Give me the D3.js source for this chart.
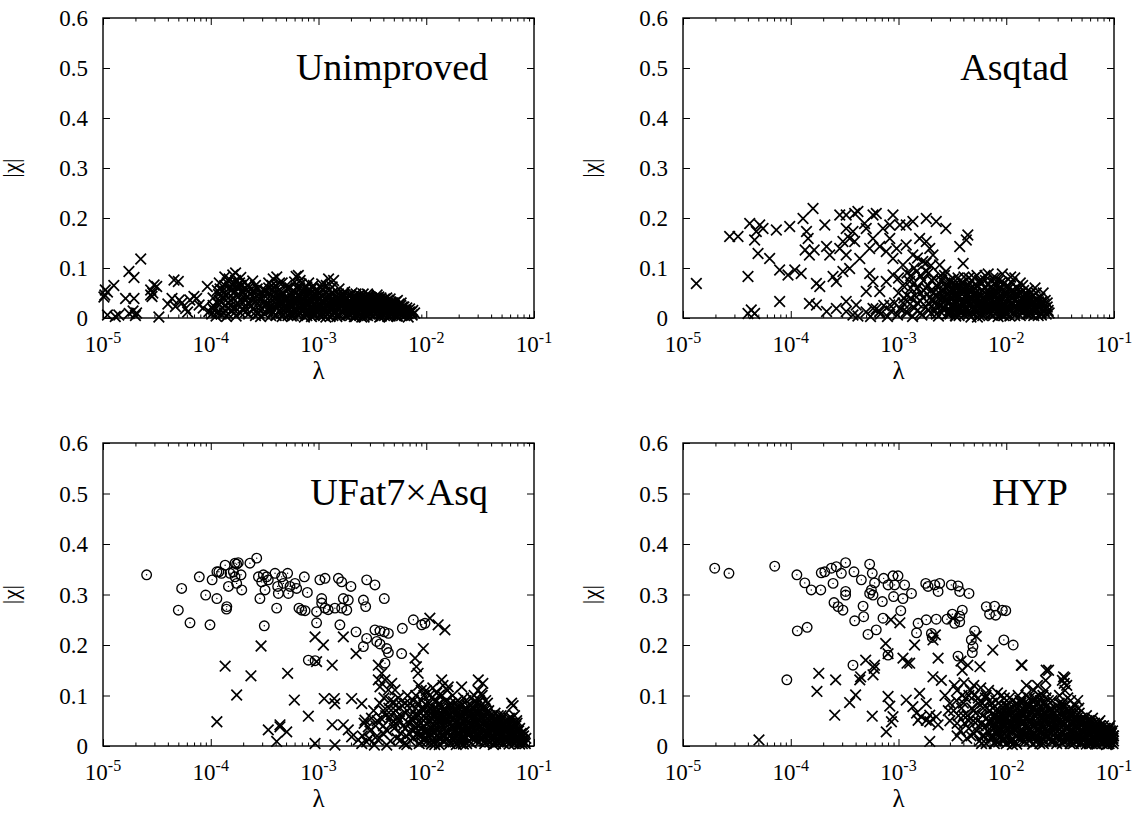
<!DOCTYPE html>
<html><head><meta charset="utf-8">
<script src="https://cdn.jsdelivr.net/npm/d3@7"></script>
<style>
body{margin:0;background:#fff}
svg{display:block}
svg text{font-family:"Liberation Serif","Times New Roman",Times,serif;fill:#000}
</style>
</head><body>
<svg id="chart" width="1141" height="815" font-family="Liberation Serif, Times New Roman, serif"></svg>
<script>
// ---------- DATA : [lambda, |chi|] ----------
const unimprovedCross = [
[2.24e-5,.118],[1.74e-5,.093],[1.94e-5,.081],[1.26e-5,.065],[1.05e-5,.056],[1.04e-5,.046],[1.02e-5,.042],[1.1e-5,.052],[1.62e-5,.039],[1.94e-5,.039],
[2.77e-5,.056],[2.98e-5,.066],[2.77e-5,.046],[2.85e-5,.043],[4.56e-5,.076],[5.0e-5,.073],[4.37e-5,.039],[5.1e-5,.036],[4.7e-5,.023],[5.85e-5,.019],
[6.98e-5,.043],[7.4e-5,.039],[6.4e-5,.036],[9.3e-5,.063],[7.8e-5,.026],[9.6e-5,.013],[1.1e-5,.006],[1.4e-5,.006],[1.75e-5,.009],[2.0e-5,.005],
[3.3e-5,.002],[1.9e-5,.014],[2.05e-5,.01],[1.3e-5,.003],[4.0e-5,.028],[5.4e-5,.03],[6.1e-5,.012],[8.5e-5,.02],[3.15e-5,.063],[2.9e-5,.05],
[1.02e-4,.008],[1.08e-4,.015],[1.12e-4,.004],[1.05e-4,.025],[1.18e-4,.047],[1.22e-4,.058],[1.15e-4,.012],[1.25e-4,.031],
[1.3e-4,.055],[1.35e-4,.082],[1.42e-4,.07],[1.38e-4,.045],[1.5e-4,.061],[1.45e-4,.02],[1.33e-4,.01],[1.55e-4,.035],[1.48e-4,.078],[1.4e-4,.003],
[1.6e-4,.086],[1.7e-4,.075],[1.65e-4,.05],[1.8e-4,.066],[1.75e-4,.03],[1.9e-4,.081],[1.85e-4,.012],[1.62e-4,.018],[1.95e-4,.055],[1.72e-4,.004],
[2.05e-4,.07],[2.15e-4,.042],[2.3e-4,.062],[2.1e-4,.02],[2.4e-4,.035],[2.25e-4,.008],[2.45e-4,.074],[2.2e-4,.052],
[2.55e-4,.048],[2.7e-4,.058],[2.8e-4,.025],[2.6e-4,.012],[3.0e-4,.04],[2.9e-4,.003],[3.1e-4,.055],[2.65e-4,.033],
[3.3e-4,.03],[3.5e-4,.05],[3.4e-4,.015],[3.7e-4,.065],[3.8e-4,.078],[3.6e-4,.005],[3.9e-4,.04],[3.45e-4,.06],
[4.1e-4,.082],[4.3e-4,.055],[4.2e-4,.025],[4.6e-4,.07],[4.5e-4,.01],[4.8e-4,.04],[4.4e-4,.045],[4.9e-4,.02],[4.0e-4,.065],
[5.1e-4,.06],[5.3e-4,.03],[5.5e-4,.045],[5.7e-4,.012],[6.0e-4,.072],[5.9e-4,.035],[5.2e-4,.005],[6.2e-4,.05],[5.6e-4,.022],
[6.5e-4,.085],[6.7e-4,.06],[7.0e-4,.04],[6.6e-4,.02],[7.3e-4,.05],[7.5e-4,.008],[7.7e-4,.03],[6.9e-4,.068],[7.2e-4,.015],
[8.0e-4,.055],[8.4e-4,.035],[8.8e-4,.06],[8.2e-4,.012],[9.0e-4,.025],[9.5e-4,.045],[8.6e-4,.003],[9.8e-4,.018],[9.2e-4,.05],
[1.02e-3,.04],[1.05e-3,.06],[1.1e-3,.02],[1.15e-3,.052],[1.2e-3,.008],[1.08e-3,.03],[1.25e-3,.045],[1.18e-3,.065],[1.12e-3,.014],
[1.3e-3,.035],[1.38e-3,.075],[1.35e-3,.05],[1.45e-3,.025],[1.5e-3,.04],[1.42e-3,.01],[1.55e-3,.058],[1.32e-3,.018],[1.48e-3,.003],
[1.6e-3,.045],[1.7e-3,.03],[1.75e-3,.052],[1.65e-3,.012],[1.85e-3,.04],[1.9e-3,.02],[1.8e-3,.005],[1.95e-3,.035],[1.68e-3,.025],
[2.05e-3,.05],[2.2e-3,.04],[2.1e-3,.022],[2.3e-3,.01],[2.4e-3,.046],[2.15e-3,.003],[2.35e-3,.03],[2.45e-3,.018],
[2.6e-3,.048],[2.75e-3,.035],[2.9e-3,.045],[2.7e-3,.015],[3.0e-3,.025],[2.85e-3,.005],[3.1e-3,.038],[2.55e-3,.028],
[3.3e-3,.02],[3.5e-3,.046],[3.6e-3,.03],[3.4e-3,.008],[3.8e-3,.04],[3.9e-3,.015],[3.7e-3,.002],[3.25e-3,.035],
[4.1e-3,.03],[4.3e-3,.04],[4.5e-3,.018],[4.7e-3,.032],[4.9e-3,.008],[4.4e-3,.003],[4.2e-3,.012],
[5.1e-3,.025],[5.4e-3,.035],[5.7e-3,.012],[6.0e-3,.022],[5.3e-3,.004],[6.2e-3,.008],
[6.5e-3,.015],[7.0e-3,.018],[7.4e-3,.006],[6.8e-3,.002],[7.8e-3,.01],
[5.4e-4,.018],[6.1e-4,.028],[6.8e-4,.01],[7.6e-4,.022],[8.3e-4,.04],[9.3e-4,.008],[1.0e-3,.028],[1.14e-3,.038],[1.22e-3,.025],[1.36e-3,.005],
[1.52e-3,.03],[1.62e-3,.035],[1.78e-3,.018],[1.88e-3,.045],[2.02e-3,.013],[2.12e-3,.035],[2.25e-3,.027],[2.42e-3,.006],[2.58e-3,.012],[2.68e-3,.04],
[2.8e-3,.022],[2.95e-3,.01],[3.05e-3,.03],[3.15e-3,.015],[3.35e-3,.026],[3.45e-3,.04],[3.55e-3,.012],[3.75e-3,.022],[3.95e-3,.028],[4.05e-3,.02],
[4.25e-3,.025],[4.6e-3,.01],[4.8e-3,.022],[5.2e-3,.015],[5.6e-3,.028],[5.9e-3,.005],[1.28e-3,.028],[1.44e-3,.042],[1.72e-3,.008],[1.92e-3,.028],
[2.18e-3,.018],[2.5e-3,.035],[2.65e-3,.002],[2.9e-3,.032],[3.2e-3,.005],[3.65e-3,.035],[1.06e-3,.01],[9.6e-4,.032],[8.9e-4,.018],[7.9e-4,.045],
[7.1e-4,.028],[6.4e-4,.038],[5.8e-4,.055],[8.1e-4,.07],[1.07e-3,.068],[3.0e-4,.018],[3.6e-4,.025],[4.7e-4,.03],[2.0e-4,.03],[1.55e-4,.015],
[1.24e-3,.078],[6.2e-4,.083]
];
// more crosses of the dense band, written as rows [lambda, chi, chi, ...]
const unimprovedCrossBand = [
[2.1e-4,.012,.038,.06],[2.35e-4,.025,.048],[2.6e-4,.005,.04,.065],[2.85e-4,.015,.05],[3.15e-4,.008,.032,.045],[3.45e-4,.02,.07],
[3.75e-4,.012,.035,.055],[4.05e-4,.005,.028,.05],[4.35e-4,.015,.038,.07],[4.7e-4,.008,.05],[5.05e-4,.02,.04,.065],[5.45e-4,.01,.032,.06],
[5.85e-4,.005,.025,.045],[6.3e-4,.015,.035,.06],[6.75e-4,.008,.045,.075],[7.25e-4,.025,.035,.058],[7.8e-4,.005,.015,.062],[8.35e-4,.028,.048],
[8.95e-4,.01,.038,.065],[9.6e-4,.022,.055],[1.03e-3,.005,.015,.048],[1.1e-3,.035,.058],[1.17e-3,.002,.025,.042],[1.26e-3,.012,.055],
[1.34e-3,.022,.04,.062],[1.43e-3,.015,.03],[1.53e-3,.008,.02,.048],[1.63e-3,.025,.042],[1.74e-3,.015,.035,.045],[1.86e-3,.01,.028],
[1.98e-3,.005,.02,.045],[2.1e-3,.012,.042],[2.23e-3,.008,.035,.048],[2.37e-3,.02,.038],[2.52e-3,.002,.025,.042],[2.68e-3,.01,.028],
[2.85e-3,.018,.038,.048],[3.03e-3,.008,.02,.042],[3.22e-3,.012,.03],[3.42e-3,.018,.035],[3.63e-3,.008,.025,.042],[3.86e-3,.01,.035],
[4.1e-3,.005,.02,.038],[4.35e-3,.015,.028],[4.62e-3,.004,.025,.038],[4.9e-3,.015,.03],[5.2e-3,.008,.02,.032],[5.5e-3,.015,.025],
[5.85e-3,.01,.018,.03],[6.2e-3,.015,.022],[6.6e-3,.008,.02],[7.0e-3,.012],[7.5e-3,.015],[1.2e-4,.035,.07],[1.3e-4,.02,.04],
[1.45e-4,.05,.008],[1.6e-4,.065,.04],[1.7e-4,.02,.09],[1.85e-4,.045,.07]
];
const unimprovedCrossCore = [
[4.0e-4,.006,.022,.04],[4.3e-4,.014,.03],[4.6e-4,.003,.02,.045],[4.9e-4,.011,.033],[5.25e-4,.018,.04],[5.6e-4,.004,.026],[6.0e-4,.013,.038],
[6.45e-4,.007,.024,.046],[6.9e-4,.016,.034],[7.4e-4,.002,.02,.042],[7.9e-4,.01,.03],[8.5e-4,.017,.037],[9.1e-4,.005,.027,.044],[9.75e-4,.013,.035],
[1.04e-3,.021,.04],[1.12e-3,.006,.029],[1.2e-3,.015,.036],[1.28e-3,.003,.022,.044],[1.37e-3,.011,.031],[1.47e-3,.018,.038],[1.57e-3,.005,.026],
[1.68e-3,.013,.034,.046],[1.8e-3,.021,.04],[1.93e-3,.008,.03],[2.07e-3,.016,.037],[2.21e-3,.003,.024,.042],[2.37e-3,.011,.032],[2.54e-3,.019,.038],
[2.72e-3,.006,.027],[2.91e-3,.014,.035,.043],[3.12e-3,.021,.04],[3.34e-3,.008,.029],[3.58e-3,.015,.036],[3.83e-3,.004,.022],[4.1e-3,.012,.03],
[4.4e-3,.019,.035],[4.7e-3,.007,.025],[5.05e-3,.013,.03],[5.4e-3,.004,.02],[5.8e-3,.01,.025],[6.3e-3,.005,.016],[6.8e-3,.009],[7.3e-3,.012],
[1.05e-4,.018,.04],[1.15e-4,.03,.055],[1.25e-4,.008,.045],[1.35e-4,.025,.065],[1.45e-4,.04,.075],[1.55e-4,.055,.025],[1.65e-4,.07,.01],
[1.75e-4,.045,.06],[1.9e-4,.035,.065],[2.0e-4,.05,.015],[2.2e-4,.03,.065],[2.5e-4,.02,.055],[2.8e-4,.04,.01],[3.2e-4,.025,.055],[3.6e-4,.045,.015]
];

const asqtadCross = [
[1.33e-5,.069],[2.71e-5,.163],[3.24e-5,.163],[4.01e-5,.083],[4.16e-5,.189],[4.01e-5,.009],[4.62e-5,.009],[4.3e-5,.016],[5.15e-5,.186],[5.53e-5,.179],
[4.79e-5,.173],[4.62e-5,.156],[4.97e-5,.129],[6.37e-5,.119],[7.35e-5,.176],[7.89e-5,.033],[7.89e-5,.096],[9.43e-5,.086],[1.09e-4,.096],[1.25e-4,.089],
[9.78e-5,.183],[1.3e-4,.199],[1.61e-4,.219],[1.4e-4,.173],[1.45e-4,.159],[1.36e-4,.136],[1.49e-4,.126],[1.65e-4,.136],[2.07e-4,.186],[2.3e-4,.126],
[2.15e-4,.143],[1.73e-4,.069],[1.86e-4,.063],[2.47e-4,.083],[2.65e-4,.073],[1.49e-4,.029],[1.73e-4,.026],[2.15e-4,.013],[2.85e-4,.206],[3.27e-4,.206],
[3.92e-4,.209],[4.2e-4,.213],[5.8e-4,.206],[6.22e-4,.209],[8.89e-4,.206],[3.27e-4,.179],[3.78e-4,.173],[3.52e-4,.159],[3.92e-4,.153],[5.02e-4,.179],
[4.84e-4,.189],[3.05e-4,.153],[2.85e-4,.139],[3.27e-4,.126],[3.52e-4,.099],[3.05e-4,.093],[4.37e-4,.119],[5.4e-4,.139],[5.8e-4,.159],[6.7e-4,.143],
[7.18e-4,.179],[8.3e-4,.186],[1.03e-3,.186],[1.18e-3,.186],[1.36e-3,.193],[1.81e-3,.199],[2.24e-3,.193],[2.75e-3,.179],[8.3e-4,.159],[9.6e-4,.139],
[1.18e-3,.146],[7.7e-4,.133],[8.89e-4,.119],[1.1e-3,.106],[1.57e-3,.159],[1.81e-3,.153],[1.95e-3,.139],[2.09e-3,.126],[1.36e-3,.126],[1.68e-3,.113],
[1.47e-3,.093],[1.27e-3,.073],[1.81e-3,.093],[3.7e-3,.143],[4.26e-3,.156],[4.4e-3,.166],[3.98e-3,.109],[5.4e-4,.089],[5.8e-4,.073],[5.02e-4,.053],
[6.7e-4,.053],[7.7e-4,.073],[8.89e-4,.086],[2.41e-3,.106],[2.75e-3,.093],[2.95e-3,.073],[2.65e-4,.019],[3.27e-4,.013],[3.78e-4,.006],[5.8e-4,.019],
[6.7e-4,.013],[8.3e-4,.026],[1.03e-3,.019],[1.18e-3,.013],[3.27e-4,.033],[4.05e-4,.026],
[4.2e-4,.004],[5.0e-4,.012],[5.5e-4,.003],[6.2e-4,.018],[6.8e-4,.008],[7.3e-4,.025],[7.9e-4,.003],[8.5e-4,.014],[9.2e-4,.03],[9.8e-4,.006],
[1.05e-3,.018],[1.12e-3,.04],[1.2e-3,.01],[1.28e-3,.028],[1.35e-3,.003],[1.42e-3,.045],[1.5e-3,.015],[1.58e-3,.035],[1.65e-3,.006],[1.72e-3,.055],
[1.8e-3,.022],[1.88e-3,.065],[1.95e-3,.04],[2.0e-3,.01],
[2.05e-3,.075],[2.1e-3,.05],[2.15e-3,.03],[2.2e-3,.015],[2.3e-3,.062],[2.35e-3,.004],[2.4e-3,.04],[2.45e-3,.085],[2.25e-3,.025],
[2.55e-3,.055],[2.6e-3,.02],[2.7e-3,.07],[2.75e-3,.035],[2.85e-3,.008],[2.9e-3,.048],[3.0e-3,.06],[3.1e-3,.025],[2.65e-3,.042],[2.95e-3,.015],
[3.25e-3,.078],[3.35e-3,.045],[3.45e-3,.02],[3.55e-3,.06],[3.65e-3,.005],[3.75e-3,.035],[3.85e-3,.07],[3.95e-3,.028],[3.4e-3,.012],[3.7e-3,.052],
[4.05e-3,.082],[4.15e-3,.055],[4.25e-3,.03],[4.35e-3,.012],[4.5e-3,.065],[4.6e-3,.04],[4.7e-3,.002],[4.8e-3,.075],[4.9e-3,.022],[4.4e-3,.048],
[5.05e-3,.06],[5.2e-3,.035],[5.35e-3,.085],[5.5e-3,.015],[5.65e-3,.05],[5.8e-3,.07],[5.95e-3,.025],[6.1e-3,.04],[6.25e-3,.008],[5.4e-3,.002],
[6.4e-3,.075],[6.6e-3,.045],[6.8e-3,.088],[7.0e-3,.02],[7.2e-3,.06],[7.4e-3,.035],[7.6e-3,.005],[7.8e-3,.07],[6.9e-3,.012],[7.5e-3,.05],
[8.0e-3,.08],[8.3e-3,.04],[8.6e-3,.06],[8.9e-3,.015],[9.2e-3,.088],[9.5e-3,.03],[9.8e-3,.05],[8.4e-3,.003],[9.0e-3,.072],[9.7e-3,.01],
[1.02e-2,.065],[1.06e-2,.035],[1.1e-2,.082],[1.14e-2,.015],[1.18e-2,.05],[1.22e-2,.025],[1.08e-2,.004],[1.25e-2,.06],[1.16e-2,.042],
[1.3e-2,.045],[1.35e-2,.07],[1.4e-2,.02],[1.45e-2,.055],[1.5e-2,.032],[1.55e-2,.008],[1.38e-2,.012],[1.48e-2,.04],
[1.62e-2,.035],[1.7e-2,.05],[1.78e-2,.015],[1.85e-2,.06],[1.92e-2,.025],[1.98e-2,.005],[1.75e-2,.03],
[2.05e-2,.04],[2.15e-2,.018],[2.25e-2,.028],[2.35e-2,.008],[2.45e-2,.015],[2.2e-2,.05],
[3.05e-3,.038],[3.5e-3,.03],[3.9e-3,.015],[4.2e-3,.04],[4.55e-3,.025],[4.95e-3,.045],[5.3e-3,.025],[5.7e-3,.035],[6.0e-3,.018],[6.5e-3,.03],
[6.7e-3,.022],[7.1e-3,.04],[7.7e-3,.025],[8.1e-3,.02],[8.8e-3,.035],[9.4e-3,.022],[1.04e-2,.02],[1.12e-2,.03],[1.2e-2,.01],[1.32e-2,.025],
[1.42e-2,.035],[1.6e-2,.018],[1.68e-2,.028],[2.0e-2,.032],[2.5e-2,.01],[2.6e-3,.03],[2.8e-3,.06],[3.3e-3,.055],[2.2e-3,.045],[1.9e-3,.03],
[1.6e-3,.05],[1.4e-3,.02],[1.3e-3,.06]
];
const asqtadCrossBand = [
[1.0e-3,.05,.08],[1.1e-3,.065,.03],[1.2e-3,.09,.045],[1.3e-3,.04,.085],[1.4e-3,.07,.1],[1.5e-3,.06,.12,.03],[1.6e-3,.085,.01],
[1.7e-3,.075,.04],[1.8e-3,.11,.06],[1.9e-3,.09,.015],[2.0e-3,.055,.105],[2.12e-3,.035,.08],[2.25e-3,.065,.008],[2.38e-3,.05,.025],
[2.52e-3,.075,.04,.01],[2.67e-3,.055,.02,.085],[2.83e-3,.03,.065],[3.0e-3,.045,.008,.075],[3.18e-3,.025,.06],[3.37e-3,.035,.068,.005],
[3.57e-3,.045,.02,.08],[3.78e-3,.06,.012],[4.0e-3,.03,.07,.05],[4.24e-3,.018,.065],[4.49e-3,.055,.008,.08],[4.76e-3,.03,.06],
[5.04e-3,.045,.015,.08],[5.34e-3,.065,.04],[5.66e-3,.02,.075,.005],[6.0e-3,.055,.032],[6.35e-3,.012,.06,.085],[6.73e-3,.038,.068],
[7.13e-3,.025,.05,.008],[7.55e-3,.08,.045],[8.0e-3,.03,.065],[8.48e-3,.05,.015,.075],[8.98e-3,.025,.06],[9.51e-3,.07,.04,.005],
[1.01e-2,.05,.02],[1.07e-2,.06,.035],[1.13e-2,.07,.025],[1.2e-2,.045,.08],[1.27e-2,.03,.06],[1.34e-2,.05,.015],[1.42e-2,.065,.025],
[1.51e-2,.045,.018],[1.6e-2,.055,.04],[1.69e-2,.008,.04],[1.79e-2,.045,.022],[1.9e-2,.035,.05],[2.1e-2,.028,.01],[2.3e-2,.035,.02],[2.4e-2,.03]
];
const asqtadCrossCore = [
[3.0e-3,.01,.033,.052],[3.2e-3,.02,.045],[3.4e-3,.004,.028,.062],[3.6e-3,.014,.04],[3.8e-3,.024,.055],[4.05e-3,.007,.035,.06],[4.3e-3,.017,.047],
[4.55e-3,.027,.058],[4.8e-3,.01,.038],[5.1e-3,.02,.05],[5.4e-3,.03,.062],[5.7e-3,.012,.043],[6.05e-3,.005,.025,.055],[6.4e-3,.016,.036],
[6.8e-3,.028,.05],[7.2e-3,.008,.04,.062],[7.6e-3,.019,.032],[8.05e-3,.045,.012],[8.5e-3,.026,.056],[9.0e-3,.006,.04],[9.55e-3,.018,.05],
[1.01e-2,.03,.06,.008],[1.07e-2,.015,.044],[1.13e-2,.026,.055],[1.2e-2,.005,.037],[1.27e-2,.017,.048],[1.35e-2,.028,.005],[1.43e-2,.012,.042],
[1.51e-2,.022,.05],[1.6e-2,.008,.03],[1.7e-2,.018,.04],[1.8e-2,.005,.028],[1.9e-2,.015,.038],[2.0e-2,.022],[2.12e-2,.006,.032],[2.25e-2,.015],[2.4e-2,.022]
];

const ufatCircle = [
[2.54e-5,.339],[5.37e-5,.312],[5.0e-5,.269],[6.42e-5,.244],[7.83e-5,.335],[8.97e-5,.299],[9.84e-5,.24],[1.03e-4,.329],[1.14e-4,.292],[1.14e-4,.345],
[1.19e-4,.345],[1.26e-4,.342],[1.36e-4,.358],[1.41e-4,.276],[1.4e-4,.271],[1.46e-4,.316],[1.51e-4,.342],[1.68e-4,.362],[1.74e-4,.36],[1.8e-4,.363],
[1.62e-4,.345],[1.68e-4,.335],[1.74e-4,.322],[1.91e-4,.339],[1.94e-4,.309],[2.31e-4,.362],[2.67e-4,.372],[2.86e-4,.292],[2.77e-4,.335],[3.08e-4,.339],
[3.3e-4,.335],[3.42e-4,.329],[2.97e-4,.325],[3.19e-4,.309],[3.14e-4,.238],[3.95e-4,.342],[4.09e-4,.273],[4.18e-4,.316],[4.24e-4,.302],[4.55e-4,.335],
[4.72e-4,.322],[5.17e-4,.342],[5.44e-4,.316],[5.25e-4,.302],[6.05e-4,.322],[6.27e-4,.312],[7.39e-4,.335],[7.88e-4,.304],[6.59e-4,.273],[6.98e-4,.269],
[7.5e-4,.268],[8.05e-4,.17],[9.29e-4,.169],[9.6e-4,.266],[9.6e-4,.244],[1.07e-3,.292],[1.07e-3,.283],[1.15e-3,.273],[1.23e-3,.27],[1.03e-3,.329],
[1.15e-3,.332],[1.42e-3,.273],[1.64e-3,.273],[1.83e-3,.269],[1.53e-3,.332],[1.64e-3,.325],[1.7e-3,.292],[1.89e-3,.289],[1.58e-3,.24],[2.0e-3,.316],
[2.61e-3,.289],[2.74e-3,.276],[2.8e-3,.329],[3.34e-3,.319],[4.08e-3,.292],[2.23e-3,.226],[2.61e-3,.197],[2.8e-3,.213],[3.34e-3,.23],[3.72e-3,.228],
[4.08e-3,.226],[4.45e-3,.223],[3.47e-3,.207],[3.72e-3,.202],[4.29e-3,.193],[4.45e-3,.185],[4.14e-3,.164],[5.91e-3,.183],[6.0e-3,.233],[7.59e-3,.25],
[9.07e-3,.24],[9.73e-3,.243]
];

const ufatCross = [
[1.14e-4,.048],[1.36e-4,.158],[1.74e-4,.101],[2.36e-4,.139],[2.93e-4,.198],[3.42e-4,.032],[4.39e-4,.038],[5.07e-4,.028],[4.09e-4,.009],[4.39e-4,.042],
[5.17e-4,.144],[5.97e-4,.091],[8.05e-4,.059],[9.29e-4,.216],[1.11e-3,.2],[9.29e-4,.005],[9.6e-4,.167],[1.13e-3,.094],[1.4e-3,.094],[1.34e-3,.16],
[1.42e-3,.084],[1.34e-3,.042],[1.42e-3,.002],[1.7e-3,.216],[2.03e-3,.094],[2.23e-3,.183],[2.52e-3,.084],[1.7e-3,.042],[1.89e-3,.032],[2.03e-3,.018],
[2.34e-3,.012],[2.52e-3,.005],[2.7e-3,.051],[2.9e-3,.038],[3.59e-3,.16],[3.86e-3,.144],[4.14e-3,.131],[3.59e-3,.131],[3.72e-3,.117],[4.45e-3,.111],
[4.78e-3,.124],[5.13e-3,.111],[7.87e-3,.174],[9.4e-3,.193],[8.1e-3,.157],[8.4e-3,.144],[1.08e-2,.253],[1.29e-2,.24],[1.49e-2,.23],[1.39e-2,.131],
[1.6e-2,.117],[2.13e-2,.117],[3.04e-2,.131],[3.35e-2,.124],[3.24e-2,.104],
[2.55e-3,.02],[2.65e-3,.045],[2.8e-3,.008],[3.0e-3,.03],[3.1e-3,.055],[2.95e-3,.015],
[3.25e-3,.07],[3.4e-3,.04],[3.55e-3,.012],[3.7e-3,.085],[3.8e-3,.055],[3.95e-3,.025],[3.3e-3,.002],
[4.05e-3,.095],[4.2e-3,.06],[4.35e-3,.03],[4.5e-3,.075],[4.65e-3,.01],[4.8e-3,.045],[4.95e-3,.088],[4.3e-3,.002],[4.7e-3,.062],
[5.05e-3,.035],[5.2e-3,.07],[5.35e-3,.015],[5.5e-3,.095],[5.65e-3,.05],[5.8e-3,.025],[5.95e-3,.08],[6.1e-3,.04],[6.25e-3,.005],[5.4e-3,.058],
[6.4e-3,.065],[6.55e-3,.02],[6.7e-3,.1],[6.85e-3,.045],[7.0e-3,.075],[7.15e-3,.01],[7.3e-3,.055],[7.45e-3,.03],[7.6e-3,.09],[7.75e-3,.04],[6.6e-3,.003],[7.2e-3,.062],
[8.0e-3,.06],[8.2e-3,.025],[8.4e-3,.085],[8.6e-3,.005],[8.8e-3,.045],[9.0e-3,.11],[9.2e-3,.035],[9.4e-3,.07],[9.6e-3,.015],[9.8e-3,.055],[8.5e-3,.12],[9.1e-3,.09],[8.3e-3,.04],
[1.01e-2,.08],[1.04e-2,.03],[1.07e-2,.1],[1.1e-2,.05],[1.13e-2,.012],[1.16e-2,.07],[1.19e-2,.04],[1.22e-2,.09],[1.25e-2,.02],[1.05e-2,.06],[1.15e-2,.115],[1.2e-2,.003],
[1.28e-2,.055],[1.31e-2,.1],[1.34e-2,.025],[1.37e-2,.075],[1.4e-2,.04],[1.43e-2,.12],[1.46e-2,.008],[1.49e-2,.065],[1.52e-2,.09],[1.55e-2,.03],[1.33e-2,.045],[1.44e-2,.055],[1.57e-2,.015],
[1.6e-2,.06],[1.64e-2,.02],[1.68e-2,.085],[1.72e-2,.04],[1.76e-2,.1],[1.8e-2,.012],[1.84e-2,.07],[1.88e-2,.03],[1.92e-2,.05],[1.96e-2,.09],[1.66e-2,.035],[1.78e-2,.055],[1.9e-2,.003],[1.99e-2,.025],
[2.02e-2,.075],[2.07e-2,.04],[2.12e-2,.015],[2.17e-2,.06],[2.22e-2,.095],[2.27e-2,.03],[2.32e-2,.05],[2.37e-2,.005],[2.42e-2,.08],[2.47e-2,.035],[2.1e-2,.055],[2.25e-2,.02],[2.4e-2,.065],[2.05e-2,.025],
[2.52e-2,.045],[2.6e-2,.08],[2.66e-2,.015],[2.72e-2,.06],[2.78e-2,.1],[2.84e-2,.03],[2.9e-2,.07],[2.96e-2,.04],[3.02e-2,.11],[3.1e-2,.02],[3.16e-2,.055],[2.56e-2,.025],[2.8e-2,.05],[3.0e-2,.085],
[3.25e-2,.08],[3.32e-2,.035],[3.4e-2,.06],[3.48e-2,.01],[3.56e-2,.09],[3.64e-2,.045],[3.72e-2,.025],[3.8e-2,.07],[3.88e-2,.05],[3.96e-2,.015],[3.36e-2,.02],[3.6e-2,.065],[3.84e-2,.035],[3.5e-2,.04],
[4.05e-2,.055],[4.15e-2,.02],[4.25e-2,.04],[4.35e-2,.065],[4.45e-2,.01],[4.55e-2,.03],[4.65e-2,.05],[4.75e-2,.018],[4.85e-2,.038],[4.95e-2,.06],[4.2e-2,.003],[4.6e-2,.025],
[5.1e-2,.04],[5.25e-2,.015],[5.4e-2,.05],[5.55e-2,.028],[5.7e-2,.008],[5.85e-2,.045],[6.0e-2,.02],[6.15e-2,.035],[5.3e-2,.03],[5.9e-2,.055],
[6.2e-2,.085],[6.4e-2,.08],[6.6e-2,.06],[6.5e-2,.025],[6.8e-2,.04],[7.0e-2,.01],[7.2e-2,.03],[7.4e-2,.015],[7.6e-2,.025],[7.8e-2,.005],[6.9e-2,.05],
[8.0e-2,.02],[8.2e-2,.008],[8.4e-2,.015],[8.1e-2,.028]
];
const ufatCrossBand = [
[7.0e-3,.025,.085],[7.5e-3,.05,.015],[8.0e-3,.035,.075,.1],[8.5e-3,.02,.06],[9.0e-3,.045,.008,.075],[9.5e-3,.03,.1,.06],
[1.0e-2,.045,.015,.11],[1.06e-2,.085,.025,.07],[1.12e-2,.055,.035,.095],[1.18e-2,.008,.065,.03],[1.25e-2,.045,.075,.105],
[1.32e-2,.015,.06,.085],[1.4e-2,.03,.055,.1],[1.48e-2,.02,.045,.075],[1.57e-2,.05,.065,.11],[1.66e-2,.01,.045,.075],
[1.76e-2,.025,.04,.065],[1.86e-2,.045,.085,.015],[1.97e-2,.035,.06,.075],[2.09e-2,.005,.045,.085],[2.21e-2,.035,.065,.015],
[2.34e-2,.025,.055,.09],[2.48e-2,.045,.07,.01],[2.62e-2,.03,.055,.095],[2.78e-2,.02,.04,.075],[2.94e-2,.01,.05,.065],
[3.12e-2,.035,.07,.09],[3.3e-2,.045,.025,.1],[3.49e-2,.06,.03,.075],[3.7e-2,.01,.055,.085],[3.92e-2,.04,.06],[4.15e-2,.035,.05,.012],
[4.4e-2,.045,.025],[4.66e-2,.04,.06,.008],[4.93e-2,.03,.048],[5.22e-2,.04,.06],[5.53e-2,.015,.038],[5.86e-2,.025,.012],
[6.2e-2,.045,.015],[6.57e-2,.035,.012],[6.95e-2,.02,.045],[7.36e-2,.035,.008],[7.8e-2,.018,.012],[8.3e-2,.005],
[3.5e-3,.05,.02],[4.0e-3,.04,.07],[4.6e-3,.055,.09],[5.2e-3,.045,.08],[5.8e-3,.06,.012],[6.4e-3,.085,.035]
];
const ufatCrossCore = [
[9.0e-3,.02,.055],[9.5e-3,.04,.075],[1.0e-2,.008,.03,.065],[1.06e-2,.018,.05],[1.12e-2,.004,.04,.078],[1.18e-2,.025,.058],[1.25e-2,.012,.035,.068],
[1.32e-2,.003,.05,.082],[1.4e-2,.02,.062],[1.48e-2,.01,.04,.07],[1.57e-2,.025,.055],[1.66e-2,.005,.045,.08],[1.76e-2,.018,.035,.07],[1.86e-2,.008,.06],
[1.97e-2,.022,.042,.068],[2.09e-2,.012,.033,.078],[2.21e-2,.004,.048],[2.34e-2,.015,.038,.072],[2.48e-2,.025,.058],[2.62e-2,.006,.04,.068],
[2.78e-2,.03,.055,.088],[2.94e-2,.02,.045,.078],[3.12e-2,.008,.05,.065],[3.3e-2,.015,.035,.058],[3.49e-2,.005,.05,.07],[3.7e-2,.02,.04,.062],
[3.92e-2,.008,.028,.05],[4.15e-2,.018,.042,.06],[4.4e-2,.005,.035,.052],[4.66e-2,.015,.03,.045],[4.93e-2,.008,.022,.052],[5.22e-2,.005,.025,.045],
[5.53e-2,.012,.035,.048],[5.86e-2,.004,.02,.04],[6.2e-2,.01,.03,.055],[6.57e-2,.005,.02,.045],[6.95e-2,.012,.03],[7.36e-2,.004,.022],[7.8e-2,.01,.025]
];

const hypCircle = [
[1.97e-5,.352],[2.67e-5,.342],[7.1e-5,.356],[9.2e-5,.131],[1.14e-4,.339],[1.35e-4,.323],[1.15e-4,.228],[1.42e-4,.235],[1.55e-4,.309],[1.9e-4,.309],
[1.92e-4,.343],[2.07e-4,.345],[2.38e-4,.352],[2.65e-4,.355],[2.95e-4,.342],[2.47e-4,.322],[2.52e-4,.284],[2.75e-4,.276],[3.05e-4,.269],[3.23e-4,.363],
[3.23e-4,.306],[3.23e-4,.299],[3.86e-4,.345],[4.52e-4,.329],[3.92e-4,.248],[4.69e-4,.277],[4.75e-4,.256],[3.78e-4,.16],[5.4e-4,.36],[5.71e-4,.342],
[5.4e-4,.302],[5.8e-4,.299],[5.6e-4,.309],[6.0e-4,.323],[7.08e-4,.286],[7.28e-4,.332],[8.0e-4,.319],[8.89e-4,.337],[9.9e-4,.337],[1.14e-3,.319],
[9.2e-4,.319],[9.0e-4,.296],[1.1e-3,.292],[1.32e-3,.302],[6.22e-4,.23],[5.21e-4,.221],[7.18e-4,.253],[8.0e-4,.18],[1.05e-3,.268],[1.52e-3,.243],
[1.47e-3,.224],[1.81e-3,.25],[2.24e-3,.251],[2.82e-3,.251],[3.32e-3,.243],[3.7e-3,.246],[1.79e-3,.322],[1.88e-3,.316],[2.17e-3,.319],[2.41e-3,.322],
[2.33e-3,.306],[3.09e-3,.319],[3.57e-3,.317],[3.7e-3,.306],[4.51e-3,.302],[3.16e-3,.261],[3.7e-3,.257],[3.91e-3,.269],[2.02e-3,.223],[2.06e-3,.215],
[3.57e-3,.178],[4.74e-3,.21],[5.09e-3,.228],[4.91e-3,.197],[4.84e-3,.185],[6.53e-3,.276],[7.0e-3,.261],[7.8e-3,.277],[7.98e-3,.259],[9.2e-3,.269],
[9.9e-3,.268],[9.5e-3,.21],[1.16e-2,.2]
];

const hypCross = [
[5.07e-5,.012],[1.75e-4,.108],[1.82e-4,.144],[2.61e-4,.131],[2.56e-4,.061],[3.52e-4,.086],[4.0e-4,.101],[4.37e-4,.131],[4.45e-4,.137],[5.8e-4,.141],
[5.71e-4,.059],[4.96e-4,.17],[6.0e-4,.16],[5.95e-4,.154],[7.6e-4,.203],[8.0e-4,.183],[8.0e-4,.098],[8.3e-4,.079],[8.89e-4,.058],[7.7e-4,.028],
[8.6e-4,.048],[1.1e-3,.174],[1.2e-3,.164],[1.03e-3,.244],[8.5e-4,.25],[1.18e-3,.091],[1.36e-3,.078],[1.47e-3,.065],[1.57e-3,.104],[1.62e-3,.058],
[1.81e-3,.084],[1.95e-3,.061],[2.24e-3,.058],[1.95e-3,.048],[2.33e-3,.042],[2.09e-3,.137],[2.33e-3,.174],[2.09e-3,.21],[1.41e-3,.2],[1.27e-3,.164],
[1.95e-3,.009],[1.52e-3,.051],[1.81e-3,.051],[3.2e-3,.253],[2.2e-3,.22],[5.27e-3,.217],[7.5e-3,.19],[3.8e-3,.168],[4.4e-3,.16],[3.9e-3,.15],
[5.7e-3,.157],[1.38e-2,.16],[2.35e-2,.15],[3.4e-2,.137],[3.45e-2,.124],[2.7e-3,.1],[2.9e-3,.07],[2.5e-3,.13],
[3.3e-3,.12],[3.45e-3,.09],[3.6e-3,.06],[3.75e-3,.03],[3.9e-3,.1],[3.5e-3,.045],[3.85e-3,.075],[3.25e-3,.07],
[4.05e-3,.125],[4.2e-3,.095],[4.35e-3,.06],[4.5e-3,.035],[4.65e-3,.11],[4.8e-3,.075],[4.95e-3,.05],[4.3e-3,.015],[4.7e-3,.02],[4.1e-3,.045],
[5.05e-3,.1],[5.2e-3,.065],[5.35e-3,.03],[5.5e-3,.085],[5.65e-3,.01],[5.8e-3,.115],[5.95e-3,.045],[6.1e-3,.075],[6.25e-3,.02],[5.4e-3,.05],[5.9e-3,.005],
[6.4e-3,.095],[6.55e-3,.055],[6.7e-3,.03],[6.85e-3,.11],[7.0e-3,.07],[7.15e-3,.015],[7.3e-3,.085],[7.45e-3,.04],[7.6e-3,.06],[7.75e-3,.005],[6.6e-3,.075],[7.2e-3,.045],
[8.0e-3,.09],[8.2e-3,.05],[8.4e-3,.02],[8.6e-3,.07],[8.8e-3,.035],[9.0e-3,.1],[9.2e-3,.01],[9.4e-3,.06],[9.6e-3,.04],[9.8e-3,.08],[8.3e-3,.105],[8.9e-3,.055],[9.5e-3,.025],
[1.01e-2,.065],[1.04e-2,.03],[1.07e-2,.095],[1.1e-2,.045],[1.13e-2,.01],[1.16e-2,.075],[1.19e-2,.055],[1.22e-2,.02],[1.25e-2,.085],[1.06e-2,.04],[1.2e-2,.035],[1.14e-2,.003],
[1.28e-2,.06],[1.31e-2,.025],[1.34e-2,.09],[1.37e-2,.045],[1.4e-2,.16],[1.43e-2,.075],[1.46e-2,.012],[1.49e-2,.055],[1.52e-2,.1],[1.55e-2,.035],[1.33e-2,.07],[1.45e-2,.03],[1.57e-2,.08],
[1.6e-2,.05],[1.64e-2,.095],[1.68e-2,.02],[1.72e-2,.07],[1.76e-2,.04],[1.8e-2,.11],[1.84e-2,.06],[1.88e-2,.008],[1.92e-2,.085],[1.96e-2,.03],[1.66e-2,.06],[1.78e-2,.025],[1.9e-2,.045],[1.99e-2,.065],
[2.02e-2,.1],[2.07e-2,.04],[2.12e-2,.07],[2.17e-2,.015],[2.22e-2,.085],[2.27e-2,.05],[2.32e-2,.11],[2.37e-2,.03],[2.42e-2,.06],[2.47e-2,.15],[2.1e-2,.055],[2.25e-2,.025],[2.4e-2,.08],[2.05e-2,.005],
[2.52e-2,.07],[2.6e-2,.035],[2.66e-2,.09],[2.72e-2,.05],[2.78e-2,.01],[2.84e-2,.075],[2.9e-2,.04],[2.96e-2,.06],[3.02e-2,.02],[3.1e-2,.085],[3.16e-2,.045],[2.56e-2,.015],[2.8e-2,.055],[3.0e-2,.03],
[3.25e-2,.06],[3.32e-2,.13],[3.4e-2,.04],[3.48e-2,.08],[3.56e-2,.02],[3.64e-2,.12],[3.72e-2,.05],[3.8e-2,.07],[3.88e-2,.03],[3.96e-2,.09],[3.36e-2,.01],[3.6e-2,.055],[3.84e-2,.015],[3.5e-2,.135],
[4.05e-2,.06],[4.15e-2,.025],[4.25e-2,.045],[4.35e-2,.08],[4.45e-2,.01],[4.55e-2,.055],[4.65e-2,.035],[4.75e-2,.065],[4.85e-2,.02],[4.95e-2,.04],[4.2e-2,.005],[4.6e-2,.09],
[5.1e-2,.05],[5.25e-2,.02],[5.4e-2,.04],[5.55e-2,.06],[5.7e-2,.01],[5.85e-2,.03],[6.0e-2,.05],[6.15e-2,.015],[5.3e-2,.035],[5.9e-2,.005],[6.2e-2,.04],[5.6e-2,.025],
[6.4e-2,.03],[6.6e-2,.045],[6.8e-2,.01],[7.0e-2,.035],[7.2e-2,.02],[7.4e-2,.05],[7.6e-2,.008],[7.8e-2,.03],[6.9e-2,.02],[7.5e-2,.04],
[8.0e-2,.02],[8.3e-2,.035],[8.6e-2,.01],[8.9e-2,.025],[9.2e-2,.04],[9.5e-2,.015],[9.8e-2,.02],[8.5e-2,.003],[9.0e-2,.005],[9.7e-2,.03]
];
const hypCrossBand = [
[3.0e-3,.085,.05],[3.5e-3,.11,.02],[4.0e-3,.06,.085],[4.5e-3,.1,.05],[5.0e-3,.07,.025,.12],[5.5e-3,.04,.095],[6.0e-3,.06,.085,.02],
[6.5e-3,.04,.1,.005],[7.0e-3,.05,.025,.09],[7.5e-3,.075,.015,.035],[8.0e-3,.06,.01,.04],[8.5e-3,.045,.085,.03],[9.0e-3,.02,.065,.045],
[9.6e-3,.055,.012,.095],[1.02e-2,.045,.08,.02],[1.08e-2,.06,.01,.075],[1.15e-2,.035,.065,.09],[1.22e-2,.05,.008,.07],[1.29e-2,.04,.1,.015],
[1.37e-2,.055,.03,.085],[1.45e-2,.065,.02,.045],[1.54e-2,.04,.075,.12],[1.63e-2,.03,.08,.01],[1.73e-2,.05,.09,.02],[1.84e-2,.035,.075,.095],
[1.95e-2,.045,.02,.12],[2.07e-2,.06,.09,.03],[2.19e-2,.04,.1,.012],[2.32e-2,.065,.035,.13],[2.46e-2,.02,.09,.045],[2.61e-2,.055,.075,.008],
[2.77e-2,.03,.065,.04],[2.94e-2,.05,.08,.015],[3.12e-2,.025,.065,.1],[3.31e-2,.045,.08,.005],[3.51e-2,.03,.06,.11],[3.72e-2,.04,.095,.012],
[3.95e-2,.06,.025,.075],[4.19e-2,.035,.07,.015],[4.44e-2,.05,.025],[4.71e-2,.045,.012,.075],[5.0e-2,.03,.055,.008],[5.3e-2,.045,.015],
[5.62e-2,.035,.05],[5.96e-2,.025,.045],[6.32e-2,.015,.055],[6.7e-2,.035,.005],[7.1e-2,.025,.045],[7.53e-2,.02,.03],[7.99e-2,.012,.04],
[8.47e-2,.025,.03],[8.98e-2,.015,.035],[9.5e-2,.008,.025],[9.9e-2,.01,.02]
];
const hypCrossCore = [
[7.5e-3,.02,.05],[8.0e-3,.03,.07],[8.5e-3,.008,.055],[9.0e-3,.03,.08],[9.5e-3,.015,.045,.068],[1.0e-2,.005,.035,.058],[1.06e-2,.022,.05],
[1.12e-2,.01,.04,.065],[1.18e-2,.028,.055],[1.25e-2,.004,.038,.075],[1.32e-2,.015,.05],[1.4e-2,.025,.06,.09],[1.48e-2,.008,.04,.07],
[1.57e-2,.02,.055,.085],[1.66e-2,.012,.035,.065],[1.76e-2,.004,.045,.075],[1.86e-2,.02,.06,.09],[1.97e-2,.012,.035,.07],[2.09e-2,.025,.05,.08],
[2.21e-2,.005,.04,.065],[2.34e-2,.018,.055,.095],[2.48e-2,.03,.07],[2.62e-2,.01,.045,.06],[2.78e-2,.022,.035,.065],[2.94e-2,.005,.04,.055],
[3.12e-2,.015,.05,.075],[3.3e-2,.028,.06,.085],[3.49e-2,.01,.045,.07],[3.7e-2,.02,.035,.06],[3.92e-2,.005,.045,.065],[4.15e-2,.015,.03,.05],
[4.4e-2,.008,.038,.06],[4.66e-2,.02,.05],[4.93e-2,.005,.03,.045],[5.22e-2,.012,.028,.05],[5.53e-2,.004,.02,.04],[5.86e-2,.01,.035,.05],
[6.2e-2,.005,.025,.045],[6.57e-2,.012,.03,.04],[6.95e-2,.004,.02,.038],[7.36e-2,.01,.025,.04],[7.8e-2,.005,.018,.032],[8.26e-2,.01,.022,.035],
[8.75e-2,.004,.015,.03],[9.27e-2,.008,.02,.03],[9.8e-2,.005,.015]
];

const panelTitles = ["Unimproved", "Asqtad", "UFat7\u00d7Asq", "HYP"];
const xTickExponents = [-5, -4, -3, -2, -1];
const yTickValues = [0, 0.1, 0.2, 0.3, 0.4, 0.5, 0.6];
const xLabel = "\u03bb";
const yLabel = "|\u03c7|";

// expand [lambda, chi, chi, ...] rows into [lambda, chi] points
const expand = rows => rows.flatMap(r => r.slice(1).map(c => [r[0], c]));

// ---------- LAYOUT ----------
const panels = [
  {title: panelTitles[0], cross: unimprovedCross.concat(expand(unimprovedCrossBand), expand(unimprovedCrossCore)), circle: [], left: 103, top: 18, w: 431, h: 300},
  {title: panelTitles[1], cross: asqtadCross.concat(expand(asqtadCrossBand), expand(asqtadCrossCore)), circle: [], left: 683, top: 18, w: 431, h: 300},
  {title: panelTitles[2], cross: ufatCross.concat(expand(ufatCrossBand), expand(ufatCrossCore)), circle: ufatCircle, left: 103, top: 443, w: 431, h: 303},
  {title: panelTitles[3], cross: hypCross.concat(expand(hypCrossBand), expand(hypCrossCore)), circle: hypCircle, left: 683, top: 443, w: 431, h: 303}
];

const FONT = "Liberation Serif, Times New Roman, serif";
const svg = d3.select("#chart");
svg.append("rect").attr("width", 1141).attr("height", 815).attr("fill", "#fff");

const majorVals = xTickExponents.map(e => Math.pow(10, e));
const minorVals = [];
for (let e = -5; e < -1; e++) for (let m = 2; m <= 9; m++) minorVals.push(m * Math.pow(10, e));

panels.forEach(p => {
  const x = d3.scaleLog().domain([1e-5, 1e-1]).range([p.left, p.left + p.w]);
  const y = d3.scaleLinear().domain([0, 0.6]).range([p.top + p.h, p.top]);
  const g = svg.append("g").attr("font-family", FONT);

  const styleAxis = sel => {
    sel.select(".domain").remove();
    sel.selectAll(".tick line").attr("stroke", "#000").attr("stroke-width", 1);
    sel.selectAll(".tick text").remove();
  };
  g.append("g").attr("transform", `translate(0,${p.top + p.h})`)
    .call(d3.axisBottom(x).tickValues(majorVals).tickSize(-7)).call(styleAxis);
  g.append("g").attr("transform", `translate(0,${p.top + p.h})`)
    .call(d3.axisBottom(x).tickValues(minorVals).tickSize(-3.5)).call(styleAxis);
  g.append("g").attr("transform", `translate(0,${p.top})`)
    .call(d3.axisTop(x).tickValues(majorVals).tickSize(-7)).call(styleAxis);
  g.append("g").attr("transform", `translate(0,${p.top})`)
    .call(d3.axisTop(x).tickValues(minorVals).tickSize(-3.5)).call(styleAxis);
  g.append("g").attr("transform", `translate(${p.left},0)`)
    .call(d3.axisLeft(y).tickValues(yTickValues).tickSize(-7)).call(styleAxis);
  g.append("g").attr("transform", `translate(${p.left + p.w},0)`)
    .call(d3.axisRight(y).tickValues(yTickValues).tickSize(-7)).call(styleAxis);

  g.append("rect").attr("x", p.left).attr("y", p.top).attr("width", p.w).attr("height", p.h)
    .attr("fill", "none").attr("stroke", "#000").attr("stroke-width", 1.4);

  g.selectAll(".ylab").data(yTickValues).enter().append("text")
    .attr("font-family", FONT)
    .attr("x", p.left - 15).attr("y", d => y(d)).attr("dy", "0.35em")
    .attr("text-anchor", "end").attr("font-size", 23)
    .text(d => d === 0 ? "0" : d3.format(".1f")(d));

  xTickExponents.forEach(e => {
    const t = g.append("text").attr("font-family", FONT)
      .attr("x", x(Math.pow(10, e))).attr("y", p.top + p.h + 34)
      .attr("text-anchor", "middle").attr("font-size", 23);
    t.append("tspan").text("10");
    t.append("tspan").attr("font-size", 16).attr("dy", -9).text(String(e));
  });

  g.append("text").attr("font-family", FONT).attr("font-size", 23).attr("text-anchor", "middle")
    .attr("transform", `translate(${p.left - 84},${p.top + p.h / 2}) rotate(-90)`)
    .text(yLabel);
  g.append("text").attr("font-family", FONT).attr("font-size", 25).attr("text-anchor", "middle")
    .attr("x", p.left + p.w / 2).attr("y", p.top + p.h + 61).text(xLabel);

  g.append("text").attr("font-family", FONT).attr("font-size", 38).attr("text-anchor", "end")
    .attr("x", p.left + p.w - 46).attr("y", p.top + 62).text(p.title);

  const cg = g.append("g");
  cg.selectAll("circle.c").data(p.circle).enter().append("circle").attr("class", "c")
    .attr("cx", d => x(d[0])).attr("cy", d => y(d[1])).attr("r", 4.8)
    .attr("fill", "none").attr("stroke", "#000").attr("stroke-width", 1.35);
  cg.selectAll("circle.dot").data(p.circle).enter().append("circle").attr("class", "dot")
    .attr("cx", d => x(d[0])).attr("cy", d => y(d[1])).attr("r", 0.7).attr("fill", "#000");

  const s = 5.3;
  g.append("g").selectAll("path").data(p.cross).enter().append("path")
    .attr("transform", d => `translate(${x(d[0])},${y(d[1])})`)
    .attr("d", `M${-s},${-s}L${s},${s}M${-s},${s}L${s},${-s}`)
    .attr("fill", "none").attr("stroke", "#000").attr("stroke-width", 1.7);
});
</script>
</body></html>
